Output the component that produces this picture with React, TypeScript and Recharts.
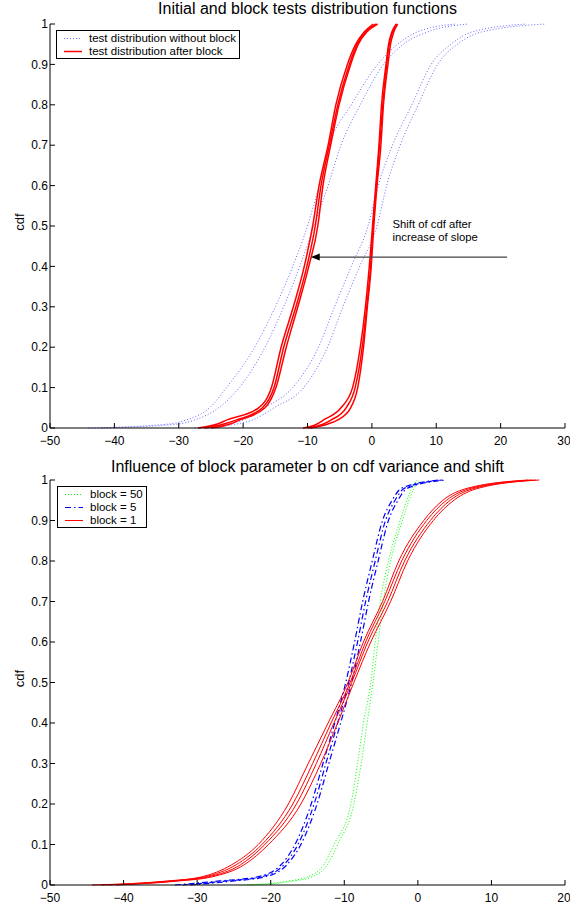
import React from 'react';
import { LineChart, Line, XAxis, YAxis, ReferenceLine, ReferenceDot } from 'recharts';

const FONT = '"Liberation Sans", Arial, Helvetica, sans-serif';

// cdf levels at which the empirical curves are sampled
const topLevels = [0, 0.01, 0.02, 0.05, 0.1, 0.2, 0.3, 0.4, 0.5, 0.6, 0.7, 0.8, 0.9, 0.95, 0.98, 1];
const bottomLevels = [0, 0.01, 0.02, 0.05, 0.1, 0.2, 0.3, 0.4, 0.5, 0.6, 0.7, 0.8, 0.9, 0.95, 0.98, 1];

// top panel: test distribution without block (blue, dotted)
const blueLeftA = [-44, -31.5, -28.8, -25.2, -22.6, -18.2, -15.0, -12.3, -10.0, -8.2, -6.6, -3.2, 0.9, 4.0, 7.0, 13];
const blueLeftB = [-42, -30, -27.5, -23.8, -20.6, -16.6, -13.7, -11.2, -9.0, -6.8, -4.8, -1.8, 1.8, 4.9, 8.6, 15];
const blueRightA = [-27.5, -22.5, -20, -16.7, -12.3, -8.3, -5.8, -3.2, -0.6, 1.0, 3.2, 6.2, 9.2, 12.3, 15.5, 24];
const blueRightB = [-26, -21, -18.5, -15.2, -10.6, -6.9, -4.5, -1.9, 0.8, 2.3, 4.4, 7.2, 10.2, 13.3, 17, 27];

// top panel: test distribution after block (red, solid)
const redLeftA = [-27, -24, -22.5, -17.6, -15.6, -14.1, -12.2, -10.5, -9.2, -8.2, -6.8, -5.6, -3.8, -2.5, -1.2, 0.2];
const redLeftB = [-26, -23, -21, -17.0, -15.2, -13.7, -11.8, -10.1, -8.8, -7.9, -6.6, -5.3, -3.5, -2.3, -1.0, 0.6];
const redLeftC = [-25, -22, -20.5, -16.6, -14.9, -13.3, -11.5, -9.8, -8.4, -7.6, -6.4, -5.1, -3.3, -2.1, -0.8, 0.9];
const redRightA = [-10.7, -8.5, -7.5, -4.8, -3.0, -1.8, -1.0, -0.4, 0.1, 0.6, 1.1, 1.5, 2.2, 2.6, 3.1, 3.8];
const redRightB = [-10.0, -7.5, -6.3, -4.0, -2.6, -1.5, -0.8, -0.2, 0.2, 0.7, 1.2, 1.7, 2.3, 2.7, 3.2, 3.9];
const redRightC = [-9.5, -6.8, -5.3, -3.3, -2.2, -1.3, -0.7, -0.1, 0.3, 0.8, 1.4, 1.8, 2.5, 2.9, 3.4, 4.0];

// bottom panel: block = 50 (green dotted)
const block50A = [-24, -17.5, -15, -12.8, -11.4, -9.1, -8.2, -7.4, -6.4, -5.8, -5.1, -4.0, -2.4, -1.5, -0.8, -0.1];
const block50B = [-23, -16.8, -14.4, -12.3, -10.9, -8.7, -7.7, -6.9, -6.1, -5.4, -4.7, -3.7, -2.1, -1.2, -0.5, 0.3];

// bottom panel: block = 5 (blue dash-dot)
const block5A = [-33, -27, -21.8, -18.6, -16.7, -14.5, -12.9, -11.3, -9.8, -8.6, -7.5, -6.2, -4.8, -3.5, -2.2, 2.8];
const block5B = [-32, -26, -21.3, -18.2, -16.3, -14.1, -12.5, -10.9, -9.4, -8.2, -7.1, -5.8, -4.4, -3.1, -1.8, 3.3];
const block5C = [-31, -25, -20.8, -17.8, -15.9, -13.7, -12.1, -10.5, -9.0, -7.8, -6.7, -5.4, -4.0, -2.7, -1.4, 3.8];

// bottom panel: block = 1 (red solid)
const block1A = [-44.3, -34, -29.4, -25.3, -21.7, -17.6, -14.9, -12.2, -9.5, -7.4, -4.8, -2.6, 0.8, 3.4, 6.8, 15];
const block1B = [-43, -33.5, -29, -24.7, -21.2, -17.0, -14.3, -11.8, -9.2, -7.1, -4.5, -2.2, 1.2, 3.9, 7.3, 15.5];
const block1C = [-42, -33, -28.5, -24.1, -20.8, -16.5, -13.8, -11.4, -9.0, -6.8, -4.1, -1.8, 1.7, 4.4, 7.8, 16];
const block1D = [-41, -32.5, -28, -23.6, -20.3, -15.9, -13.2, -10.9, -8.7, -6.4, -3.7, -1.4, 2.1, 4.9, 8.3, 16.5];

const topXTicks = [-50, -40, -30, -20, -10, 0, 10, 20, 30];
const bottomXTicks = [-50, -40, -30, -20, -10, 0, 10, 20];
const yTicks = [0, 0.1, 0.2, 0.3, 0.4, 0.5, 0.6, 0.7, 0.8, 0.9, 1];

// arrow annotation in the top panel
const arrowFrom = { x: 21, y: 0.423 };
const arrowTo = { x: -9.5, y: 0.423 };
const noteAt = { x: 3.2, y: 0.494 };
const noteLines = ['Shift of cdf after', 'increase of slope'];

const toPoints = (xs: number[], levels: number[]) => xs.map((x, i) => ({ x, cdf: levels[i] }));

const tickStyle = { fontSize: 12, fill: '#000', fontFamily: FONT };

// MATLAB prints negative ticks with a real minus sign
const fmt = (v: number) => (v < 0 ? `\u2212${Math.abs(v)}` : String(v));

const YLabel = (props: any) => {
  const { x, y, height } = props.viewBox;
  const cx = x - 1;
  const cy = y + height / 2 - 4;
  return (
    <text x={cx} y={cy} transform={`rotate(-90 ${cx} ${cy})`} textAnchor="middle" dominantBaseline="central"
      fontSize={13} fontFamily={FONT} fill="#000">cdf</text>
  );
};

// box frame with inward ticks on all four sides
const renderAxes = (domain: [number, number], xTicks: number[]) => [
  <XAxis key="xb" dataKey="x" type="number" domain={domain} ticks={xTicks} allowDataOverflow
    height={20} tickSize={-5} tickMargin={13} tick={tickStyle} tickFormatter={fmt}
    axisLine={{ stroke: '#000' }} tickLine={{ stroke: '#000' }} />,
  <XAxis key="xt" xAxisId="top" orientation="top" type="number" domain={domain} ticks={xTicks} allowDataOverflow
    height={0} tickSize={-5} tickFormatter={() => ''}
    axisLine={{ stroke: '#000' }} tickLine={{ stroke: '#000' }} />,
  <YAxis key="yl" type="number" domain={[0, 1]} ticks={yTicks} width={30} tickSize={-5} tickMargin={7}
    tick={tickStyle} tickFormatter={fmt} axisLine={{ stroke: '#000' }} tickLine={{ stroke: '#000' }}
    label={{ content: YLabel }} />,
  <YAxis key="yr" yAxisId="right" orientation="right" type="number" domain={[0, 1]} ticks={yTicks} width={0}
    tickSize={-5} tickFormatter={() => ''} axisLine={{ stroke: '#000' }} tickLine={{ stroke: '#000' }} />,
];

const ArrowShape = (props: any) => {
  const { x1, y1, x2, y2 } = props;
  const dir = x2 < x1 ? 1 : -1;
  return (
    <g>
      <line x1={x1} y1={y1} x2={x2 + dir * 8} y2={y2} stroke="#444" strokeWidth={1.2} />
      <polygon points={`${x2},${y2} ${x2 + dir * 9},${y2 - 3.5} ${x2 + dir * 9},${y2 + 3.5}`} fill="#000" />
    </g>
  );
};

const NoteShape = (props: any) => (
  <text x={props.cx} y={props.cy} fontSize={11.3} fontFamily={FONT} fill="#000">
    {noteLines.map((t, i) => (
      <tspan key={t} x={props.cx} dy={i === 0 ? 0 : 12.5}>{t}</tspan>
    ))}
  </text>
);

type LegendItem = { label: string; color: string; dash?: string; width: number; opacity?: number };

const LegendBox = ({ items, left, top, width }: { items: LegendItem[]; left: number; top: number; width: number }) => (
  <div style={{ position: 'absolute', left, top, width, border: '1px solid #000', background: '#fff',
    padding: '0.5px 0', fontFamily: FONT, fontSize: 11.5, lineHeight: '13px', color: '#000' }}>
    {items.map((it) => (
      <div key={it.label} style={{ display: 'flex', alignItems: 'center', height: 13 }}>
        <svg width={28} height={13} style={{ marginLeft: 4, flex: 'none' }}>
          <line x1={3} x2={21} y1={6.5} y2={6.5} stroke={it.color} strokeWidth={it.width}
            strokeDasharray={it.dash} strokeOpacity={it.opacity ?? 1} />
        </svg>
        <span style={{ whiteSpace: 'nowrap' }}>{it.label}</span>
      </div>
    ))}
  </div>
);

const topLegend: LegendItem[] = [
  { label: 'test distribution without block', color: '#0000ff', dash: '1 2', width: 1, opacity: 0.6 },
  { label: 'test distribution after block', color: '#ff0000', width: 1.5 },
];

const bottomLegend: LegendItem[] = [
  { label: 'block = 50', color: '#00ff00', dash: '1 2', width: 1 },
  { label: 'block = 5', color: '#0000ff', dash: '6 3 1.5 3', width: 1.2 },
  { label: 'block = 1', color: '#ff0000', width: 1 },
];

const topBlue = [blueLeftA, blueLeftB, blueRightA, blueRightB];
const topRed = [redLeftA, redLeftB, redLeftC, redRightA, redRightB, redRightC];

const titleStyle: React.CSSProperties = {
  position: 'absolute', left: 50, width: 515, textAlign: 'center', fontFamily: FONT, fontSize: 16,
  lineHeight: '18px', color: '#000', whiteSpace: 'nowrap',
};

export default function App() {
  return (
    <div style={{ position: 'absolute', left: 0, top: 0, width: 570, height: 907, background: '#fff' }}>
      <div style={{ ...titleStyle, top: 0 }}>Initial and block tests distribution functions</div>
      <div style={{ ...titleStyle, top: 458 }}>Influence of block parameter b on cdf variance and shift</div>

      <div style={{ position: 'absolute', left: 0, top: 0 }}>
        <LineChart width={570} height={453} margin={{ top: 24, right: 5, bottom: 5, left: 20 }}>
          {renderAxes([-50, 30], topXTicks)}
          {topBlue.map((xs, i) => (
            <Line key={`b${i}`} data={toPoints(xs, topLevels)} dataKey="cdf" type="monotone" stroke="#0000ff"
              strokeWidth={1} strokeDasharray="1 2" strokeOpacity={0.6} dot={false} isAnimationActive={false} />
          ))}
          {topRed.map((xs, i) => (
            <Line key={`r${i}`} data={toPoints(xs, topLevels)} dataKey="cdf" type="monotone" stroke="#ff0000"
              strokeWidth={1.5} dot={false} isAnimationActive={false} />
          ))}
          <ReferenceLine segment={[arrowFrom, arrowTo]} shape={ArrowShape} ifOverflow="visible" />
          <ReferenceDot x={noteAt.x} y={noteAt.y} r={1} shape={NoteShape} ifOverflow="visible" />
        </LineChart>
      </div>

      <div style={{ position: 'absolute', left: 0, top: 453 }}>
        <LineChart width={570} height={454} margin={{ top: 27, right: 5, bottom: 2, left: 20 }}>
          {renderAxes([-50, 20], bottomXTicks)}
          {[block50A, block50B].map((xs, i) => (
            <Line key={`g${i}`} data={toPoints(xs, bottomLevels)} dataKey="cdf" type="monotone" stroke="#00ff00"
              strokeWidth={1} strokeDasharray="1 2" dot={false} isAnimationActive={false} />
          ))}
          {[block5A, block5B, block5C].map((xs, i) => (
            <Line key={`bl${i}`} data={toPoints(xs, bottomLevels)} dataKey="cdf" type="monotone" stroke="#0000ff"
              strokeWidth={1.2} strokeDasharray="6 3 1.5 3" dot={false} isAnimationActive={false} />
          ))}
          {[block1A, block1B, block1C, block1D].map((xs, i) => (
            <Line key={`rd${i}`} data={toPoints(xs, bottomLevels)} dataKey="cdf" type="monotone" stroke="#ff0000"
              strokeWidth={1} dot={false} isAnimationActive={false} />
          ))}
        </LineChart>
      </div>

      <LegendBox items={topLegend} left={56} top={30} width={182} />
      <LegendBox items={bottomLegend} left={57} top={486} width={88} />
    </div>
  );
}
